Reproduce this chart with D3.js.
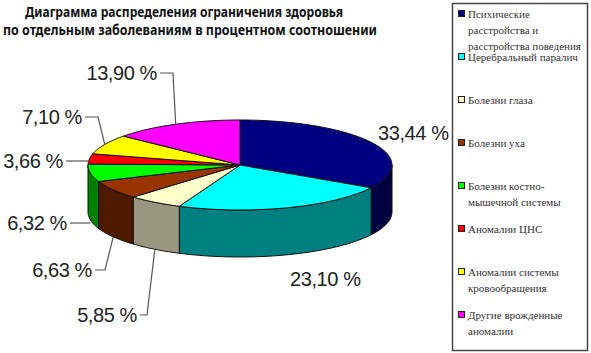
<!DOCTYPE html>
<html>
<head>
<meta charset="utf-8">
<script src="https://cdn.jsdelivr.net/npm/d3@7"></script>
<style>
  body { margin: 0; background: #fff; }
  svg { display: block; }
  .legend-text { font-family: "Liberation Serif", "DejaVu Serif", "Times New Roman", serif; }
</style>
</head>
<body>
<svg id="chart" width="591" height="353"></svg>
<script>
// data
const categories = [
  "Психические\nрасстройства и\nрасстройства поведения",
  "Церебральный паралич",
  "Болезни глаза",
  "Болезни уха",
  "Болезни костно-\nмышечной системы",
  "Аномалии ЦНС",
  "Аномалии системы\nкровообращения",
  "Другие врожденные\nаномалии"
];
const values = [33.44, 23.10, 5.85, 6.63, 6.32, 3.66, 7.10, 13.90];
const topColors = ["#000080", "#00ffff", "#ffffcc", "#993300", "#00ff00", "#ff0000", "#ffff00", "#ff00ff"];
const sideColors = ["#000040", "#008080", "#99977f", "#4d1a00", "#008000", "#800000", "#808000", "#800080"];
const titleLines = [
  "Диаграмма распределения ограничения здоровья",
  "по отдельным заболеваниям в процентном соотношении"
];

// label placement (layout only)
// leader.from: where on the slice the leader starts ('top' edge or 'bottom' of the side)
const labelLayout = [
  { x: 378, y: 133, anchor: "start", leader: null },
  { x: 290, y: 279, anchor: "start", leader: null },
  { x: 137, y: 315, anchor: "end", leader: { from: "bottom", elbow: [147, 315] } },
  { x: 92, y: 270, anchor: "end", leader: { from: "bottom", elbow: [105, 270] } },
  { x: 67, y: 223, anchor: "end", leader: { from: "bottom", elbow: "flat" } },
  { x: 63, y: 161, anchor: "end", leader: { from: "top", elbow: "flat" } },
  { x: 82, y: 117, anchor: "end", leader: { from: "top", elbow: [98, 117] } },
  { x: 157, y: 73, anchor: "end", leader: { from: "top", elbow: [173, 73] } }
];

const svg = d3.select("#chart");
const cx = 240, cy = 165, rx = 152, ry = 45, depth = 47;

const pie = d3.pie().sort(null).value(d => d)(values);
const pt = (a, dy = 0) => [cx + rx * Math.sin(a), cy - ry * Math.cos(a) + dy];

function arcPoints(a0, a1, dy) {
  const n = Math.max(2, Math.ceil(Math.abs(a1 - a0) / 0.02));
  return d3.range(n + 1).map(i => pt(a0 + (a1 - a0) * i / n, dy));
}
const line = d3.line();

// side faces (front half only: angles between PI/2 and 3PI/2)
const sides = svg.append("g");
pie.forEach((s, i) => {
  const a0 = Math.max(s.startAngle, Math.PI / 2);
  const a1 = Math.min(s.endAngle, Math.PI * 1.5);
  if (a1 <= a0) return;
  const pts = arcPoints(a0, a1, 0).concat(arcPoints(a1, a0, depth));
  sides.append("path")
    .attr("d", line(pts) + "Z")
    .attr("fill", sideColors[i])
    .attr("stroke", "#111")
    .attr("stroke-width", 1)
    .attr("stroke-linejoin", "round");
});

// top faces
const tops = svg.append("g");
pie.forEach((s, i) => {
  const pts = [[cx, cy]].concat(arcPoints(s.startAngle, s.endAngle, 0));
  tops.append("path")
    .attr("d", line(pts) + "Z")
    .attr("fill", topColors[i])
    .attr("stroke", "#111")
    .attr("stroke-width", 1)
    .attr("stroke-linejoin", "round");
});

// labels and leaders
const fmt = v => v.toFixed(2).replace(".", ",") + " %";
const labels = svg.append("g");
pie.forEach((s, i) => {
  const L = labelLayout[i];
  if (L.leader) {
    const mid = (s.startAngle + s.endAngle) / 2;
    const start = pt(mid, L.leader.from === "bottom" ? depth : 0);
    let pts;
    if (L.leader.elbow === "flat") {
      pts = [[start[0], L.y], [L.x + 3, L.y]];
    } else {
      pts = [start, L.leader.elbow, [L.x + 3, L.y]];
    }
    labels.append("path")
      .attr("d", line(pts))
      .attr("fill", "none")
      .attr("stroke", "#555")
      .attr("stroke-width", 1.2);
  }
  labels.append("text")
    .attr("x", L.x)
    .attr("y", L.y)
    .attr("dy", "0.36em")
    .attr("text-anchor", L.anchor)
    .style("font-family", "'Liberation Sans', Arial, sans-serif")
    .attr("font-size", 20)
    .attr("letter-spacing", -0.4)
    .attr("fill", "#222")
    .text(fmt(values[i]));
});

// title
const title = svg.append("g")
  .style("font-family", "'Noto Sans', 'Open Sans', sans-serif")
  .attr("font-weight", "bold")
  .attr("font-size", 13.5)
  .attr("fill", "#111");
title.append("text").attr("x", 25).attr("y", 17)
  .attr("textLength", 318).attr("lengthAdjust", "spacingAndGlyphs")
  .text(titleLines[0]);
title.append("text").attr("x", 3).attr("y", 35)
  .attr("textLength", 374).attr("lengthAdjust", "spacingAndGlyphs")
  .text(titleLines[1]);

// legend
const legend = svg.append("g");
legend.append("rect")
  .attr("x", 452.5).attr("y", 3.5)
  .attr("width", 135).attr("height", 347)
  .attr("fill", "#fff")
  .attr("stroke", "#444")
  .attr("stroke-width", 1.5);

const ly = d3.scalePoint().domain(d3.range(categories.length)).range([14, 315]);
categories.forEach((c, i) => {
  const y = ly(i);
  legend.append("rect")
    .attr("x", 458.5).attr("y", y - 3.5)
    .attr("width", 6).attr("height", 6)
    .attr("fill", topColors[i])
    .attr("stroke", "#222")
    .attr("stroke-width", 1);
  const t = legend.append("text")
    .attr("class", "legend-text")
    .attr("font-size", 11)
    .attr("fill", "#333");
  c.split("\n").forEach((ln, j) => {
    t.append("tspan")
      .attr("x", 468)
      .attr("y", y + j * 16)
      .attr("dy", "0.35em")
      .text(ln);
  });
});
</script>
</body>
</html>
